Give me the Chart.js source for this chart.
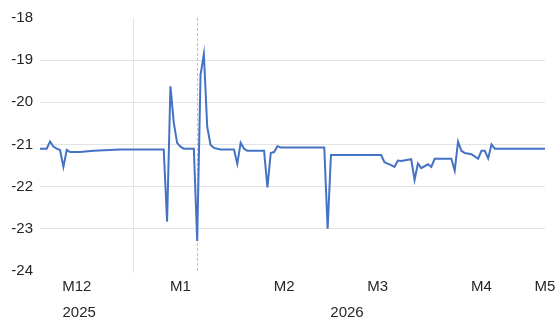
<!DOCTYPE html>
<html>
<head>
<meta charset="utf-8">
<script src="https://cdn.jsdelivr.net/npm/chart.js@4.4.1/dist/chart.umd.min.js"></script>
<style>
html, body { margin: 0; padding: 0; background: #fff; }
#wrap { width: 557px; height: 323px; }
</style>
</head>
<body>
<div id="wrap"><canvas id="myChart"></canvas></div>
<script>
// x = days counted from 1 Dec 2025
var days = [-11, -9, -8, -7, -6, -5, -4, -3, -2, 1, 5, 13, 26, 27, 28, 29, 30, 31, 32, 35, 36, 37, 38, 39, 40, 41, 43, 47, 48, 49, 50, 51, 56, 57, 58, 59, 60, 61, 74, 75, 76, 91, 92, 94, 95, 96, 97, 100, 101, 102, 103, 105, 106, 107, 112, 113, 114, 115, 116, 118, 120, 121, 122, 123, 124, 125, 140];
var values = [-21.1, -21.1, -20.93, -21.05, -21.1, -21.13, -21.53, -21.13, -21.18, -21.18, -21.15, -21.12, -21.12, -22.83, -19.62, -20.48, -20.96, -21.05, -21.1, -21.1, -23.29, -19.35, -18.86, -20.58, -21.01, -21.08, -21.12, -21.12, -21.46, -20.96, -21.1, -21.15, -21.15, -22.02, -21.2, -21.18, -21.04, -21.07, -21.07, -23.0, -21.25, -21.25, -21.42, -21.49, -21.53, -21.38, -21.39, -21.35, -21.84, -21.45, -21.56, -21.47, -21.53, -21.34, -21.34, -21.62, -20.93, -21.15, -21.2, -21.23, -21.34, -21.15, -21.15, -21.33, -21.0, -21.1, -21.1];

var monthTicks = [0, 31, 62, 90, 121, 151];
var monthLabels = ['M12', 'M1', 'M2', 'M3', 'M4', 'M5'];
var yearTicks = [0.7, 80.8];
var yearLabels = ['2025', '2026'];
var markerDays = [16.8, 35.9];

var xMin = -11, xMax = 140;

var points = [];
for (var i = 0; i < days.length; i++) {
    points.push({x: days[i], y: values[i]});
}

// the two thin vertical lines
var markerLines = {
    id: 'markerLines',
    beforeDatasetsDraw: function (chart) {
        var ctx = chart.ctx;
        var area = chart.chartArea;
        var xs = chart.scales.x;
        ctx.save();
        ctx.lineWidth = 1;
        var px = Math.round(xs.getPixelForValue(markerDays[0])) + 0.5;
        ctx.strokeStyle = '#e3e3e3';
        ctx.beginPath();
        ctx.moveTo(px, area.top);
        ctx.lineTo(px, area.bottom + 2);
        ctx.stroke();
        px = Math.round(xs.getPixelForValue(markerDays[1])) + 0.5;
        ctx.strokeStyle = '#bfbfbf';
        ctx.setLineDash([3, 2]);
        ctx.beginPath();
        ctx.moveTo(px, area.top);
        ctx.lineTo(px, area.bottom + 2);
        ctx.stroke();
        ctx.restore();
    }
};

var font = {family: 'Liberation Sans', size: 15};

function noSidePadding(scale) {
    scale.paddingLeft = 0;
    scale.paddingRight = 0;
}

var myChart = new Chart(document.getElementById('myChart'), {
    type: 'line',
    data: {
        datasets: [{
            data: points,
            borderColor: '#4472C4',
            borderWidth: 2,
            pointRadius: 0,
            tension: 0,
            fill: false
        }]
    },
    options: {
        responsive: true,
        maintainAspectRatio: false,
        animation: false,
        layout: {padding: {top: 18, right: 12, bottom: 0, left: 0}},
        plugins: {legend: {display: false}, tooltip: {enabled: false}},
        scales: {
            x: {
                type: 'linear',
                min: xMin,
                max: xMax,
                weight: 0,
                grid: {display: false, drawTicks: false},
                border: {display: false},
                ticks: {
                    font: font,
                    color: '#262626',
                    padding: 7,
                    maxRotation: 0,
                    autoSkip: false,
                    callback: function (v) {
                        var k = monthTicks.indexOf(v);
                        if (v === xMax) k = monthLabels.length - 1;
                        return k >= 0 ? monthLabels[k] : '';
                    }
                },
                afterBuildTicks: function (scale) {
                    scale.ticks = monthTicks.map(function (t) {
                        return {value: Math.min(t, xMax)};
                    });
                },
                afterFit: function (scale) {
                    scale.height = 24;
                    noSidePadding(scale);
                }
            },
            x2: {
                type: 'linear',
                position: 'bottom',
                min: xMin,
                max: xMax,
                weight: 1,
                grid: {display: false, drawTicks: false},
                border: {display: false},
                ticks: {
                    font: font,
                    color: '#262626',
                    padding: 9,
                    maxRotation: 0,
                    autoSkip: false,
                    callback: function (v) {
                        var k = yearTicks.indexOf(v);
                        return k >= 0 ? yearLabels[k] : '';
                    }
                },
                afterBuildTicks: function (scale) {
                    scale.ticks = yearTicks.map(function (t) { return {value: t}; });
                },
                afterFit: function (scale) {
                    scale.height = 28;
                    noSidePadding(scale);
                }
            },
            y: {
                min: -24,
                max: -18,
                grid: {
                    drawTicks: false,
                    color: function (c) {
                        var v = c.tick.value;
                        return (v === -24 || v === -18) ? 'rgba(0,0,0,0)' : '#e3e3e3';
                    }
                },
                border: {display: false},
                ticks: {
                    stepSize: 1,
                    font: font,
                    color: '#262626',
                    padding: 7
                },
                afterFit: function (scale) { scale.width = 40; }
            }
        }
    },
    plugins: [markerLines]
});
</script>
</body>
</html>
